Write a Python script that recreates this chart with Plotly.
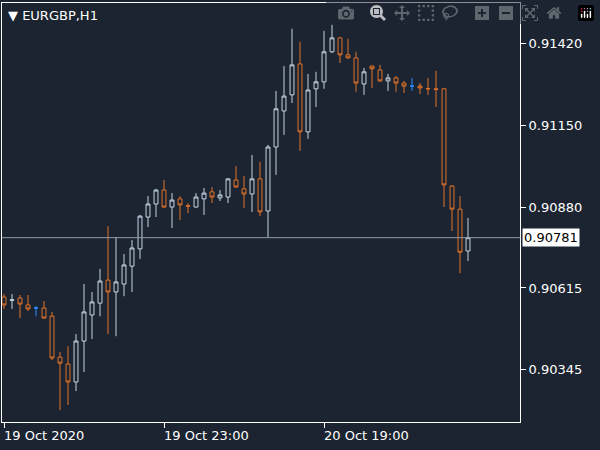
import plotly.graph_objects as go

# Chart colours
BG = '#1b2430'
UP = '#c3d3e3'
DOWN = '#e0732a'
DOJI = '#2a8cff'
TEXT = '#ffffff'

# Hourly EURGBP bars
opens = [0.90585, 0.90574, 0.90582, 0.90559, 0.90549, 0.90549, 0.90522, 0.90387, 0.90364, 0.90305,
         0.90440, 0.90526, 0.90565, 0.90641, 0.90602, 0.90628, 0.90687, 0.90744, 0.90849, 0.90892,
         0.90938, 0.90882, 0.90909, 0.90886, 0.90882, 0.90909, 0.90932, 0.90912, 0.90915, 0.90971,
         0.90942, 0.90925, 0.90975, 0.90869, 0.91080, 0.91199, 0.91252, 0.91354, 0.91130, 0.91272,
         0.91295, 0.91394, 0.91440, 0.91384, 0.91374, 0.91288, 0.91347, 0.91334, 0.91298, 0.91308,
         0.91291, 0.91281, 0.91281, 0.91273, 0.91272, 0.91272, 0.90951, 0.90875, 0.90737]
highs = [0.90595, 0.90595, 0.90592, 0.90592, 0.90555, 0.90572, 0.90536, 0.90404, 0.90423, 0.90463,
         0.90628, 0.90602, 0.90678, 0.90819, 0.90783, 0.90727, 0.90773, 0.90856, 0.90918, 0.90942,
         0.90971, 0.90928, 0.90918, 0.90895, 0.90928, 0.90945, 0.90948, 0.90938, 0.90976, 0.91017,
         0.90984, 0.91054, 0.91031, 0.91087, 0.91265, 0.91347, 0.91470, 0.91427, 0.91321, 0.91328,
         0.91463, 0.91483, 0.91442, 0.91437, 0.91394, 0.91341, 0.91349, 0.91351, 0.91321, 0.91314,
         0.91298, 0.91308, 0.91291, 0.91308, 0.91331, 0.91275, 0.90954, 0.90918, 0.90846]
lows = [0.90546, 0.90546, 0.90516, 0.90539, 0.90522, 0.90513, 0.90377, 0.90212, 0.90229, 0.90275,
        0.90338, 0.90447, 0.90522, 0.90463, 0.90456, 0.90588, 0.90602, 0.90711, 0.90816, 0.90849,
        0.90879, 0.90813, 0.90839, 0.90862, 0.90880, 0.90856, 0.90895, 0.90902, 0.90895, 0.90945,
        0.90879, 0.90866, 0.90852, 0.90783, 0.90988, 0.91120, 0.91225, 0.91067, 0.91107, 0.91212,
        0.91272, 0.91390, 0.91357, 0.91372, 0.91262, 0.91252, 0.91275, 0.91295, 0.91265, 0.91262,
        0.91258, 0.91265, 0.91255, 0.91252, 0.91212, 0.90882, 0.90803, 0.90664, 0.90704]
closes = [0.90559, 0.90576, 0.90562, 0.90546, 0.90549, 0.90516, 0.90384, 0.90367, 0.90305, 0.90440,
          0.90536, 0.90569, 0.90638, 0.90602, 0.90635, 0.90691, 0.90747, 0.90852, 0.90892, 0.90938,
          0.90882, 0.90905, 0.90889, 0.90885, 0.90915, 0.90928, 0.90915, 0.90922, 0.90975, 0.90948,
          0.90925, 0.90975, 0.90866, 0.91080, 0.91206, 0.91248, 0.91351, 0.91130, 0.91268, 0.91295,
          0.91394, 0.91440, 0.91384, 0.91374, 0.91291, 0.91328, 0.91338, 0.91298, 0.91308, 0.91291,
          0.91281, 0.91281, 0.91275, 0.91272, 0.91270, 0.90955, 0.90875, 0.90733, 0.90781]

y_ticks = [0.91420, 0.91150, 0.90880, 0.90615, 0.90345]
x_tick_idx = [0, 20, 40]
x_tick_labels = ['19 Oct 2020', '19 Oct 23:00', '20 Oct 19:00']
last_price = closes[-1]

idx = list(range(len(opens)))

fig = go.Figure()

def add_group(sel, color):
    fig.add_trace(go.Candlestick(
        x=[idx[i] for i in sel],
        open=[opens[i] for i in sel],
        high=[highs[i] for i in sel],
        low=[lows[i] for i in sel],
        close=[closes[i] for i in sel],
        increasing=dict(line=dict(color=color, width=1), fillcolor=BG),
        decreasing=dict(line=dict(color=color, width=1), fillcolor=BG),
        whiskerwidth=0,
        showlegend=False,
        hoverinfo='skip',
    ))

add_group([i for i in idx if closes[i] > opens[i]], UP)
add_group([i for i in idx if closes[i] < opens[i]], DOWN)
add_group([i for i in idx if closes[i] == opens[i]], DOJI)

# last price line + label
fig.add_hline(y=last_price, line=dict(color='#8f9caa', width=1))
annotations = [
    dict(x=1.0, y=last_price, xref='paper', yref='y', xanchor='left', yanchor='middle',
         xshift=2, text=f'{last_price:.5f}', showarrow=False, bgcolor='#ffffff',
         font=dict(color='#000000', size=13), borderpad=1),
    dict(x=0, y=1, xref='paper', yref='paper', xanchor='left', yanchor='top',
         xshift=4, yshift=-3, text='▼ EURGBP,H1', showarrow=False,
         font=dict(color=TEXT, size=13)),
]
for i, lab in zip(x_tick_idx, x_tick_labels):
    annotations.append(dict(x=i, y=0, xref='x', yref='paper', xanchor='left', yanchor='top',
                            xshift=-2, yshift=-4, text=lab, showarrow=False,
                            font=dict(color=TEXT, size=13)))

fig.update_layout(
    width=600, height=450,
    margin=dict(l=2, r=80, t=3, b=28),
    paper_bgcolor=BG, plot_bgcolor=BG,
    font=dict(family='DejaVu Sans', color=TEXT, size=13),
    annotations=annotations,
    xaxis=dict(range=[-0.25, 64.5], rangeslider=dict(visible=False), showgrid=False,
               zeroline=False, showline=True, linecolor=TEXT, mirror=True,
               tickvals=x_tick_idx, ticktext=['', '', ''], ticks='outside',
               ticklen=5, tickcolor=TEXT, automargin=False),
    yaxis=dict(range=[0.90173, 0.91555], side='right', showgrid=False, zeroline=False,
               showline=True, linecolor=TEXT, mirror=True, tickvals=y_ticks,
               ticktext=[f'{v:.5f}' for v in y_ticks], ticks='outside', ticklen=5,
               tickcolor=TEXT, tickfont=dict(size=13), automargin=False),
)

# drop the page's default body margin so the chart sits at 0,0
fig.write_html("out.html",
               post_script="document.body.style.margin='0';document.body.style.background='%s';" % BG)
